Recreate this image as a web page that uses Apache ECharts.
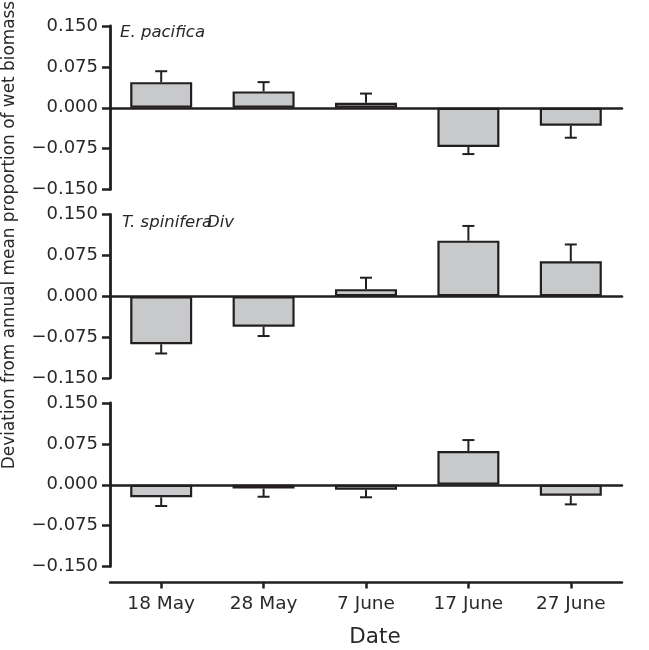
<!DOCTYPE html>
<html>
<head>
<meta charset="utf-8">
<script src="https://cdn.jsdelivr.net/npm/echarts@6/dist/echarts.min.js"></script>
<style>html,body{margin:0;padding:0;background:#fff;}#c{width:649px;height:650px;}</style>
</head>
<body>
<div id="c"></div>
<script>
// ---- data ----
const categories = ['18 May', '28 May', '7 June', '17 June', '27 June'];
const yTicks = [-0.150, -0.075, 0.000, 0.075, 0.150];
const panelLabels = ['E. pacifica', 'T. spinifera', 'Div'];

const pacificaMean = [0.047, 0.030, 0.009, -0.072, -0.033];
const pacificaSE   = [0.020, 0.017, 0.017, 0.013, 0.022];

const spiniferaMean = [-0.088, -0.056, 0.013, 0.102, 0.064];
const spiniferaSE   = [0.017, 0.017, 0.021, 0.027, 0.031];

const divMean = [-0.023, -0.007, -0.009, 0.062, -0.020];
const divSE   = [0.016, 0.015, 0.014, 0.020, 0.016];

// ---- styling ----
const INK = '#231f20';
const TXT = '#2b2829';
const BAR = '#c8c9cb';
const FONT = 'DejaVu Sans';
const gridTops = [26, 214.5, 403];
const gridH = 163.5;

const panels = [
  {mean: pacificaMean, se: pacificaSE},
  {mean: spiniferaMean, se: spiniferaSE},
  {mean: divMean, se: divSE}
];

function fmt(v) {
  const s = (Math.round(v * 1000) / 1000).toFixed(3);
  return s.replace('-', '\u2212');
}

function renderErr(params, api) {
  const x = api.value(0), v = api.value(1), e = api.value(2);
  const p0 = api.coord([x, v]);
  const p1 = api.coord([x, e]);
  const st = {stroke: INK, lineWidth: 2};
  return {
    type: 'group',
    children: [
      {type: 'line', shape: {x1: p0[0], y1: p0[1], x2: p1[0], y2: p1[1]}, style: st},
      {type: 'line', shape: {x1: p1[0] - 6, y1: p1[1], x2: p1[0] + 6, y2: p1[1]}, style: st}
    ]
  };
}

const grid = [], xAxis = [], yAxis = [], series = [];
panels.forEach((p, i) => {
  grid.push({left: 110, width: 512, top: gridTops[i], height: gridH});
  xAxis.push({
    type: 'category', data: categories, gridIndex: i, position: 'bottom',
    axisLine: {onZero: true, lineStyle: {color: INK, width: 2.5}},
    axisTick: {show: false}, axisLabel: {show: false}
  });
  yAxis.push({
    type: 'value', gridIndex: i, min: yTicks[0], max: yTicks[yTicks.length - 1], interval: 0.075,
    splitLine: {show: false},
    axisLine: {show: true, onZero: false, lineStyle: {color: INK, width: 2.8}},
    axisTick: {show: true, length: 8, lineStyle: {color: INK, width: 2.5}},
    axisLabel: {formatter: fmt, margin: 12, color: TXT, fontSize: 18, fontFamily: FONT}
  });
  series.push({
    type: 'bar', xAxisIndex: i, yAxisIndex: i, barWidth: 62,
    data: p.mean,
    itemStyle: {color: BAR, borderColor: INK, borderWidth: 2.2},
    silent: true, animation: false
  });
  series.push({
    type: 'custom', xAxisIndex: i, yAxisIndex: i, renderItem: renderErr,
    data: p.mean.map((m, k) => [k, m, m >= 0 ? m + p.se[k] : m - p.se[k]]),
    silent: true, animation: false, z: 3
  });
});

// bottom date axis
xAxis.push({
  type: 'category', data: categories, gridIndex: 2, position: 'bottom', offset: 16,
  axisLine: {onZero: false, lineStyle: {color: INK, width: 2.5}},
  axisTick: {show: true, alignWithLabel: true, length: 6, lineStyle: {color: INK, width: 2.5}},
  axisLabel: {color: TXT, fontSize: 18.5, fontFamily: FONT, margin: 12},
  name: 'Date', nameLocation: 'middle', nameGap: 44,
  nameTextStyle: {color: TXT, fontSize: 21.5, fontFamily: FONT, padding: [0, 0, 0, 18]}
});

const chart = echarts.init(document.getElementById('c'), null, {renderer: 'canvas'});
chart.setOption({
  animation: false,
  grid, xAxis, yAxis, series,
  graphic: [
    {type: 'text', x: 10, y: 235, rotation: Math.PI / 2,
     style: {text: 'Deviation from annual mean proportion of wet biomass', fill: TXT,
             fontSize: 16.9, fontFamily: FONT, align: 'center', verticalAlign: 'middle'}},
    {type: 'text', x: 120, y: 33,
     style: {text: panelLabels[0], fill: TXT, fontSize: 16.5, fontStyle: 'italic', fontFamily: FONT, align: 'left', verticalAlign: 'middle'}},
    {type: 'text', x: 122, y: 223,
     style: {text: panelLabels[1], fill: TXT, fontSize: 16.5, fontStyle: 'italic', fontFamily: FONT, align: 'left', verticalAlign: 'middle'}},
    {type: 'text', x: 207, y: 223,
     style: {text: panelLabels[2], fill: TXT, fontSize: 16.5, fontStyle: 'italic', fontFamily: FONT, align: 'left', verticalAlign: 'middle'}}
  ]
});
</script>
</body>
</html>
